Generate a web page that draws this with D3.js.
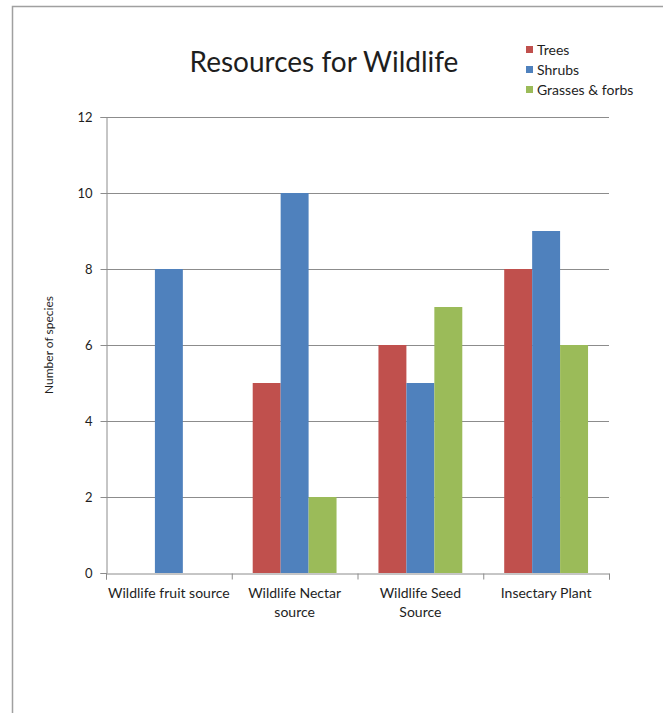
<!DOCTYPE html>
<html>
<head>
<meta charset="utf-8">
<script src="https://cdn.jsdelivr.net/npm/d3@7"></script>
<style>
  html, body { margin: 0; padding: 0; background: #fff; }
  svg { display: block; }
  text { font-family: Lato, "Open Sans", sans-serif; fill: #1e1e1e; }
</style>
</head>
<body>
<svg id="chart" width="663" height="713"></svg>
<script>
const categories = ["Wildlife fruit source", "Wildlife Nectar source", "Wildlife Seed Source", "Insectary Plant"];
const categoryLines = [["Wildlife fruit source"], ["Wildlife Nectar", "source"], ["Wildlife Seed", "Source"], ["Insectary Plant"]];
const seriesNames = ["Trees", "Shrubs", "Grasses & forbs"];
const trees = [0, 5, 6, 8];
const shrubs = [8, 10, 5, 9];
const grasses = [0, 2, 7, 6];
const yTicks = [0, 2, 4, 6, 8, 10, 12];
const colors = ["#C0504D", "#4F81BD", "#9BBB59"];

const seriesValues = [trees, shrubs, grasses];
const svg = d3.select("#chart");

// outer frame
svg.append("path")
  .attr("d", "M12.5,713 L12.5,6.5 L663,6.5")
  .attr("fill", "none").attr("stroke", "#a0a0a0").attr("stroke-width", 1.5);

const plot = { left: 106, right: 609, top: 117, bottom: 573 };

const x0 = d3.scaleBand().domain(categories).range([plot.left, plot.right]).paddingInner(0).paddingOuter(0);
const bw = x0.bandwidth();
const barW = bw / 4.5;
const x1 = d3.scaleBand().domain(seriesNames).range([barW * 0.75, bw - barW * 0.75]).padding(0);
const y = d3.scaleLinear().domain([0, 12]).range([plot.bottom, plot.top]);

// gridlines
svg.append("g").selectAll("line").data(yTicks.filter(d => d > 0)).join("line")
  .attr("x1", plot.left).attr("x2", plot.right)
  .attr("y1", d => Math.round(y(d)) + 0.5).attr("y2", d => Math.round(y(d)) + 0.5)
  .attr("stroke", "#8c8c8c").attr("stroke-width", 1);

// bars
const data = [];
categories.forEach((c, i) => {
  seriesNames.forEach((s, j) => {
    data.push({ cat: c, series: s, value: seriesValues[j][i], color: colors[j] });
  });
});
svg.append("g").selectAll("rect").data(data.filter(d => d.value > 0)).join("rect")
  .attr("x", d => x0(d.cat) + x1(d.series))
  .attr("width", x1.bandwidth())
  .attr("y", d => y(d.value))
  .attr("height", d => y(0) - y(d.value))
  .attr("fill", d => d.color);

// y axis
const yAxis = d3.axisLeft(y).tickValues(yTicks).tickSize(6).tickPadding(8);
const gy = svg.append("g").attr("transform", `translate(${plot.left + 0.5},0)`).call(yAxis);
gy.select(".domain").attr("stroke", "#8c8c8c");
gy.selectAll(".tick line").attr("stroke", "#8c8c8c");
gy.selectAll(".tick text").attr("font-family", "Lato, sans-serif").attr("font-size", 13).attr("fill", "#1e1e1e");

// x axis
const xAxisScale = d3.scaleLinear().domain([0, categories.length]).range([plot.left, plot.right]);
const gx = svg.append("g").attr("transform", `translate(0,${Math.round(plot.bottom) + 0.5})`)
  .call(d3.axisBottom(xAxisScale).tickValues(d3.range(categories.length + 1)).tickSize(6).tickFormat(""));
gx.select(".domain").attr("stroke", "#8c8c8c");
gx.selectAll(".tick line").attr("stroke", "#8c8c8c");

// category labels
const catG = svg.append("g");
categories.forEach((c, i) => {
  const t = catG.append("text")
    .attr("x", x0(c) + bw / 2)
    .attr("y", 598)
    .attr("text-anchor", "middle")
    .attr("font-size", 14);
  categoryLines[i].forEach((line, k) => {
    t.append("tspan").attr("x", x0(c) + bw / 2).attr("dy", k === 0 ? 0 : 19).text(line);
  });
});

// y label
svg.append("text")
  .attr("transform", `translate(53,345) rotate(-90)`)
  .attr("text-anchor", "middle")
  .attr("font-size", 12)
  .text("Number of species");

// title
svg.append("text")
  .attr("x", 324).attr("y", 72)
  .attr("text-anchor", "middle")
  .attr("font-size", 28)
  .text("Resources for Wildlife");

// legend
const lg = svg.append("g");
seriesNames.forEach((s, i) => {
  const cy = 50 + i * 20;
  lg.append("rect").attr("x", 526).attr("y", cy - 4).attr("width", 7).attr("height", 7).attr("fill", colors[i]);
  lg.append("text").attr("x", 537).attr("y", cy + 5).attr("font-size", 14).text(s);
});
</script>
</body>
</html>
